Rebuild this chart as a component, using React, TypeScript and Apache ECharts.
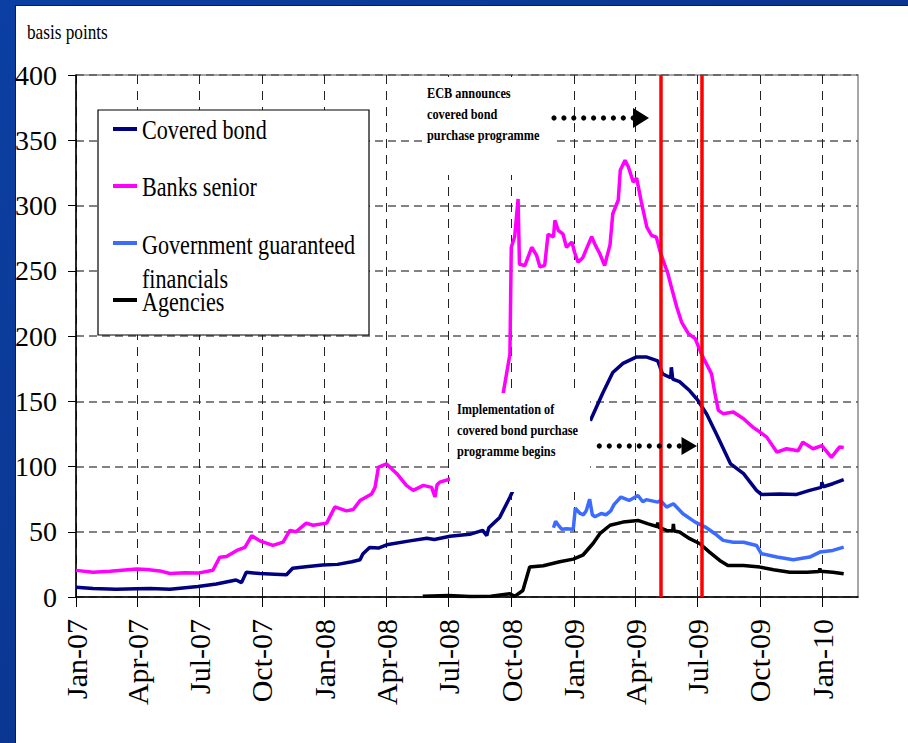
import { useEffect, useRef } from "react";
import * as echarts from "echarts";

const SERIF = "'Times New Roman', 'Liberation Serif', serif";

const seriesNames = ["Covered bond", "Banks senior", "Government guaranteed financials", "Agencies"];
const legendLabelLines = [["Covered bond"], ["Banks senior"], ["Government guaranteed", "financials"], ["Agencies"]];
const seriesColors = ["#000080", "#ff00ff", "#3b6cff", "#000000"];

const tickDates = [
  "2007-01-01", "2007-04-01", "2007-07-01", "2007-10-01",
  "2008-01-01", "2008-04-01", "2008-07-01", "2008-10-01",
  "2009-01-01", "2009-04-01", "2009-07-01", "2009-10-01", "2010-01-01",
];
const tickLabels = [
  "Jan-07", "Apr-07", "Jul-07", "Oct-07",
  "Jan-08", "Apr-08", "Jul-08", "Oct-08",
  "Jan-09", "Apr-09", "Jul-09", "Oct-09", "Jan-10",
];
const xMin = "2007-01-01";
const xMax = "2010-02-22";

const eventDates = ["2009-05-08", "2009-07-08"];

const coveredBond: [string, number | null][] = [
  ["2007-01-01", 7.5], ["2007-01-26", 6.5], ["2007-03-01", 6], ["2007-03-31", 6.3], ["2007-04-20", 6.5],
  ["2007-05-19", 6], ["2007-06-29", 8], ["2007-07-26", 10], ["2007-08-24", 13], ["2007-09-01", 11],
  ["2007-09-08", 19], ["2007-09-28", 18], ["2007-10-20", 17.5], ["2007-11-06", 17], ["2007-11-15", 22],
  ["2007-12-01", 23], ["2007-12-29", 24.5], ["2008-01-20", 25], ["2008-02-10", 27], ["2008-02-22", 28.5],
  ["2008-02-26", 33], ["2008-03-07", 38], ["2008-03-20", 37.5], ["2008-04-01", 40], ["2008-05-05", 43],
  ["2008-05-30", 45], ["2008-06-10", 44], ["2008-07-03", 46.5], ["2008-08-01", 48], ["2008-08-20", 51],
  ["2008-08-26", 47], ["2008-08-29", 53], ["2008-09-14", 61], ["2008-09-29", 76.5], ["2008-10-03", 81],
  ["2008-11-15", null],
  ["2009-01-25", 135], ["2009-02-12", 156], ["2009-02-27", 172], ["2009-03-14", 179], ["2009-04-03", 184],
  ["2009-04-17", 184], ["2009-05-04", 181], ["2009-05-11", 171], ["2009-05-23", 168], ["2009-05-24", 176],
  ["2009-05-26", 167], ["2009-06-05", 165], ["2009-06-20", 158], ["2009-07-02", 150.6], ["2009-07-15", 140],
  ["2009-07-30", 124], ["2009-08-19", 102], ["2009-09-07", 94.5], ["2009-09-26", 81.7], ["2009-10-03", 78.6],
  ["2009-10-30", 79], ["2009-11-24", 78.6], ["2009-12-13", 81.7], ["2009-12-30", 84], ["2009-12-31", 88],
  ["2010-01-02", 84.5], ["2010-01-16", 86.8], ["2010-02-01", 90],
];

const banksSenior: [string, number | null][] = [
  ["2007-01-01", 20.4], ["2007-01-26", 19], ["2007-02-20", 19.8], ["2007-03-31", 21.5], ["2007-04-15", 21],
  ["2007-05-04", 20], ["2007-05-19", 18], ["2007-06-10", 18.5], ["2007-06-29", 18.3], ["2007-07-21", 20.5],
  ["2007-07-31", 30.5], ["2007-08-10", 31], ["2007-08-25", 35.7], ["2007-09-06", 38], ["2007-09-16", 47],
  ["2007-09-28", 43], ["2007-10-17", 39.5], ["2007-11-01", 42], ["2007-11-11", 51], ["2007-11-20", 50],
  ["2007-12-05", 56.6], ["2007-12-15", 55], ["2008-01-04", 56.6], ["2008-01-16", 69], ["2008-02-02", 66],
  ["2008-02-12", 67], ["2008-02-22", 74], ["2008-03-10", 79], ["2008-03-15", 84], ["2008-03-20", 99.5],
  ["2008-04-01", 102], ["2008-04-16", 94.5], ["2008-04-30", 85.5], ["2008-05-10", 81.7], ["2008-05-25", 85.5],
  ["2008-06-06", 84], ["2008-06-11", 76.6], ["2008-06-14", 86], ["2008-06-18", 88], ["2008-07-05", 90.6],
  ["2008-08-15", null],
  ["2008-09-19", 155.7], ["2008-09-29", 186], ["2008-10-01", 268], ["2008-10-06", 276], ["2008-10-11", 305],
  ["2008-10-13", 255], ["2008-10-21", 254], ["2008-10-31", 268], ["2008-11-07", 262], ["2008-11-12", 253],
  ["2008-11-19", 254], ["2008-11-24", 278], ["2008-12-02", 276], ["2008-12-04", 288.6], ["2008-12-09", 281],
  ["2008-12-16", 278], ["2008-12-21", 268], ["2008-12-29", 272], ["2009-01-02", 264], ["2009-01-07", 256.6],
  ["2009-01-14", 260], ["2009-01-22", 270], ["2009-01-27", 276], ["2009-02-01", 270], ["2009-02-08", 263],
  ["2009-02-15", 254], ["2009-02-23", 270], ["2009-02-27", 293.7], ["2009-03-07", 304], ["2009-03-10", 327],
  ["2009-03-17", 334.6], ["2009-03-22", 329.5], ["2009-03-29", 318], ["2009-04-03", 321], ["2009-04-10", 302.6],
  ["2009-04-18", 283.5], ["2009-04-25", 277], ["2009-05-02", 275.8], ["2009-05-07", 265.6], ["2009-05-12", 258],
  ["2009-05-19", 247.7], ["2009-05-24", 237.5], ["2009-06-01", 222], ["2009-06-08", 210.7], ["2009-06-18", 201.8],
  ["2009-06-28", 198], ["2009-07-07", 186.4], ["2009-07-22", 171], ["2009-07-27", 155.8], ["2009-08-01", 143],
  ["2009-08-08", 140.5], ["2009-08-23", 141.7], ["2009-09-07", 136.6], ["2009-09-21", 130], ["2009-10-01", 126.4],
  ["2009-10-11", 122.5], ["2009-10-26", 111], ["2009-11-09", 113.6], ["2009-11-26", 112], ["2009-12-03", 118.7],
  ["2009-12-18", 113.6], ["2009-12-31", 116], ["2010-01-14", 107], ["2010-01-26", 115], ["2010-02-01", 114.6],
];

const govGuaranteed: [string, number | null][] = [
  ["2008-12-02", 53], ["2008-12-05", 58], ["2008-12-09", 55], ["2008-12-14", 52], ["2008-12-21", 52.3],
  ["2008-12-31", 52], ["2009-01-03", 68], ["2009-01-10", 64], ["2009-01-15", 63], ["2009-01-19", 66],
  ["2009-01-24", 75], ["2009-01-28", 63], ["2009-02-01", 61.5], ["2009-02-10", 64], ["2009-02-17", 63],
  ["2009-02-24", 66], ["2009-03-01", 71], ["2009-03-11", 76.6], ["2009-03-23", 74], ["2009-04-05", 77.8],
  ["2009-04-12", 73], ["2009-04-17", 74.6], ["2009-05-04", 72.7], ["2009-05-08", 74], ["2009-05-17", 68.9],
  ["2009-05-27", 71.5], ["2009-06-10", 63.8], ["2009-06-28", 57.4], ["2009-07-13", 53.6], ["2009-07-27", 48.5],
  ["2009-08-08", 43.4], ["2009-08-23", 42], ["2009-09-07", 42], ["2009-09-26", 39.5], ["2009-10-03", 33.2],
  ["2009-10-26", 30.6], ["2009-11-19", 28.6], ["2009-12-13", 30.6], ["2009-12-28", 34.4], ["2010-01-16", 35.7],
  ["2010-02-01", 38.2],
];

const agencies: [string, number | null][] = [
  ["2008-05-24", 0.6], ["2008-07-01", 1.2], ["2008-08-01", 0.3], ["2008-09-01", 0.5], ["2008-09-29", 2.5],
  ["2008-10-06", 0.5], ["2008-10-18", 5], ["2008-10-28", 23], ["2008-11-17", 24], ["2008-12-11", 27],
  ["2008-12-31", 29], ["2009-01-14", 32], ["2009-01-29", 41], ["2009-02-08", 48.5], ["2009-02-23", 55],
  ["2009-03-14", 57.4], ["2009-04-05", 58.7], ["2009-04-20", 56], ["2009-05-03", 54], ["2009-05-04", 57],
  ["2009-05-05", 53.6], ["2009-05-17", 51], ["2009-05-26", 50.5], ["2009-05-27", 56], ["2009-05-28", 50.5],
  ["2009-06-05", 49.8], ["2009-06-20", 44.7], ["2009-07-05", 40.8], ["2009-07-19", 34.4], ["2009-08-03", 28],
  ["2009-08-15", 24.2], ["2009-09-07", 24.2], ["2009-10-01", 22.9], ["2009-10-21", 20.9], ["2009-11-14", 19],
  ["2009-12-09", 19], ["2009-12-27", 19.5], ["2009-12-28", 22], ["2009-12-29", 19.8], ["2010-01-16", 19],
  ["2010-02-01", 17.8],
];

const seriesData = [coveredBond, banksSenior, govGuaranteed, agencies];

const annotationEcb = ["ECB announces", "covered bond", "purchase programme"];
const annotationImpl = ["Implementation of", "covered bond purchase", "programme begins"];
const yAxisTitle = "basis points";

function ts(s: string): number {
  const [y, m, d] = s.split("-").map(Number);
  return Date.UTC(y, m - 1, d);
}

function buildGraphic() {
  const g: any[] = [];
  const Z = 100;
  g.push({
    type: "text", x: 27, y: 32, scaleX: 0.82, z: Z,
    style: { text: yAxisTitle, fill: "#000", font: `21px ${SERIF}`, textAlign: "left", textVerticalAlign: "middle" },
  });
  g.push({ type: "rect", z: Z, shape: { x: 423, y: 77, width: 129, height: 98 }, style: { fill: "#fff" } });
  g.push({ type: "rect", z: Z, shape: { x: 450, y: 393, width: 140, height: 99 }, style: { fill: "#fff" } });
  const ecbY = [93, 114, 135];
  annotationEcb.forEach((t, i) =>
    g.push({
      type: "text", x: 427, y: ecbY[i], scaleX: 0.82, z: Z + 1,
      style: { text: t, fill: "#000", font: `bold 15px ${SERIF}`, textAlign: "left", textVerticalAlign: "middle" },
    })
  );
  const implY = [409, 430, 451];
  annotationImpl.forEach((t, i) =>
    g.push({
      type: "text", x: 457, y: implY[i], scaleX: 0.82, z: Z + 1,
      style: { text: t, fill: "#000", font: `bold 15px ${SERIF}`, textAlign: "left", textVerticalAlign: "middle" },
    })
  );
  const arrow = (x0: number, step: number, y: number, hx: number, hl: number, hh: number) => {
    for (let i = 0; i < 9; i++) {
      g.push({ type: "circle", z: Z + 1, shape: { cx: x0 + i * step, cy: y, r: 2.6 }, style: { fill: "#000" } });
    }
    g.push({
      type: "polygon", z: Z + 1,
      shape: { points: [[hx, y - hh], [hx + hl, y], [hx, y + hh]] },
      style: { fill: "#000" },
    });
  };
  arrow(554, 9.9, 118, 633, 16, 10);
  arrow(599.3, 10, 446, 681.5, 15.5, 9);
  g.push({
    type: "rect", z: Z, shape: { x: 98, y: 110, width: 271, height: 225 },
    style: { fill: "#fff", stroke: "#000", lineWidth: 1.2 },
  });
  const iconY = [129, 186, 243, 300];
  const textY = [[130], [187], [245, 279], [302]];
  legendLabelLines.forEach((lines, i) => {
    g.push({
      type: "line", z: Z + 1, shape: { x1: 113, y1: iconY[i], x2: 137, y2: iconY[i] },
      style: { stroke: seriesColors[i], lineWidth: 4 },
    });
    lines.forEach((t, j) =>
      g.push({
        type: "text", x: 142, y: textY[i][j], scaleX: 0.82, z: Z + 1,
        style: { text: t, fill: "#000", font: `27px ${SERIF}`, textAlign: "left", textVerticalAlign: "middle" },
      })
    );
  });
  return g;
}

export default function App() {
  const ref = useRef<HTMLDivElement>(null);
  useEffect(() => {
    if (!ref.current) return;
    const chart = echarts.init(ref.current, undefined, { renderer: "svg" });
    const tickValues = tickDates.map(ts);
    const series: any[] = seriesNames.map((name, i) => ({
      name,
      type: "line",
      showSymbol: false,
      symbol: "none",
      connectNulls: false,
      z: 2,
      lineStyle: { color: seriesColors[i], width: 3.5 },
      itemStyle: { color: seriesColors[i] },
      emphasis: { disabled: true },
      data: seriesData[i].map(([d, v]) => [ts(d), v]),
    }));
    series.push({
      name: "events",
      type: "line",
      data: [],
      z: 5,
      markLine: {
        silent: true,
        symbol: ["none", "none"],
        label: { show: false },
        lineStyle: { color: "#ff0000", width: 3.5, type: "solid" },
        data: eventDates.map((d) => ({ xAxis: ts(d) })),
      },
    });
    const option: any = {
      animation: false,
      backgroundColor: "transparent",
      grid: {
        left: 76, right: 50, top: 75, bottom: 146,
        show: true, borderColor: "#8a8a8a", borderWidth: 1.5, backgroundColor: "transparent",
      },
      xAxis: {
        type: "value",
        min: ts(xMin),
        max: ts(xMax),
        axisLine: { show: true, onZero: false, lineStyle: { color: "#000", width: 1.5 } },
        axisTick: { show: true, length: 10, customValues: tickValues, lineStyle: { color: "#000", width: 1 } },
        axisLabel: {
          customValues: tickValues,
          rotate: 90,
          margin: 22,
          color: "#000",
          fontFamily: SERIF,
          fontSize: 30,
          hideOverlap: false,
          showMinLabel: true,
          showMaxLabel: true,
          formatter: (v: number) => {
            let best = 0;
            tickValues.forEach((t, i) => {
              if (Math.abs(t - v) < Math.abs(tickValues[best] - v)) best = i;
            });
            return tickLabels[best];
          },
        },
        splitLine: { show: true, lineStyle: { type: [9, 7], color: "#222", width: 1 } },
      },
      yAxis: {
        type: "value",
        min: 0,
        max: 400,
        interval: 50,
        axisLine: { show: true, lineStyle: { color: "#000", width: 1.5 } },
        axisTick: { show: true, length: 8, lineStyle: { color: "#000" } },
        axisLabel: { margin: 19, color: "#000", fontFamily: SERIF, fontSize: 28 },
        splitLine: { show: true, lineStyle: { type: [8, 5], color: "#5a5a5a", width: 1.5 } },
      },
      series,
      graphic: buildGraphic(),
    };
    chart.setOption(option);
    return () => chart.dispose();
  }, []);

  return (
    <div
      style={{
        position: "absolute", left: 0, top: 0, width: 908, height: 743, overflow: "hidden",
        background: "linear-gradient(135deg, #0c3fa3 0%, #0a3690 50%, #0d3c9c 100%)",
      }}
    >
      <div
        style={{
          position: "absolute", left: 15, top: 5, width: 893, height: 738, background: "#fff",
          borderLeft: "1px solid #1a1a2a", borderTop: "1px solid #1a1a2a", boxSizing: "border-box",
        }}
      />
      <div ref={ref} style={{ position: "absolute", left: 0, top: 0, width: 908, height: 743 }} />
    </div>
  );
}
